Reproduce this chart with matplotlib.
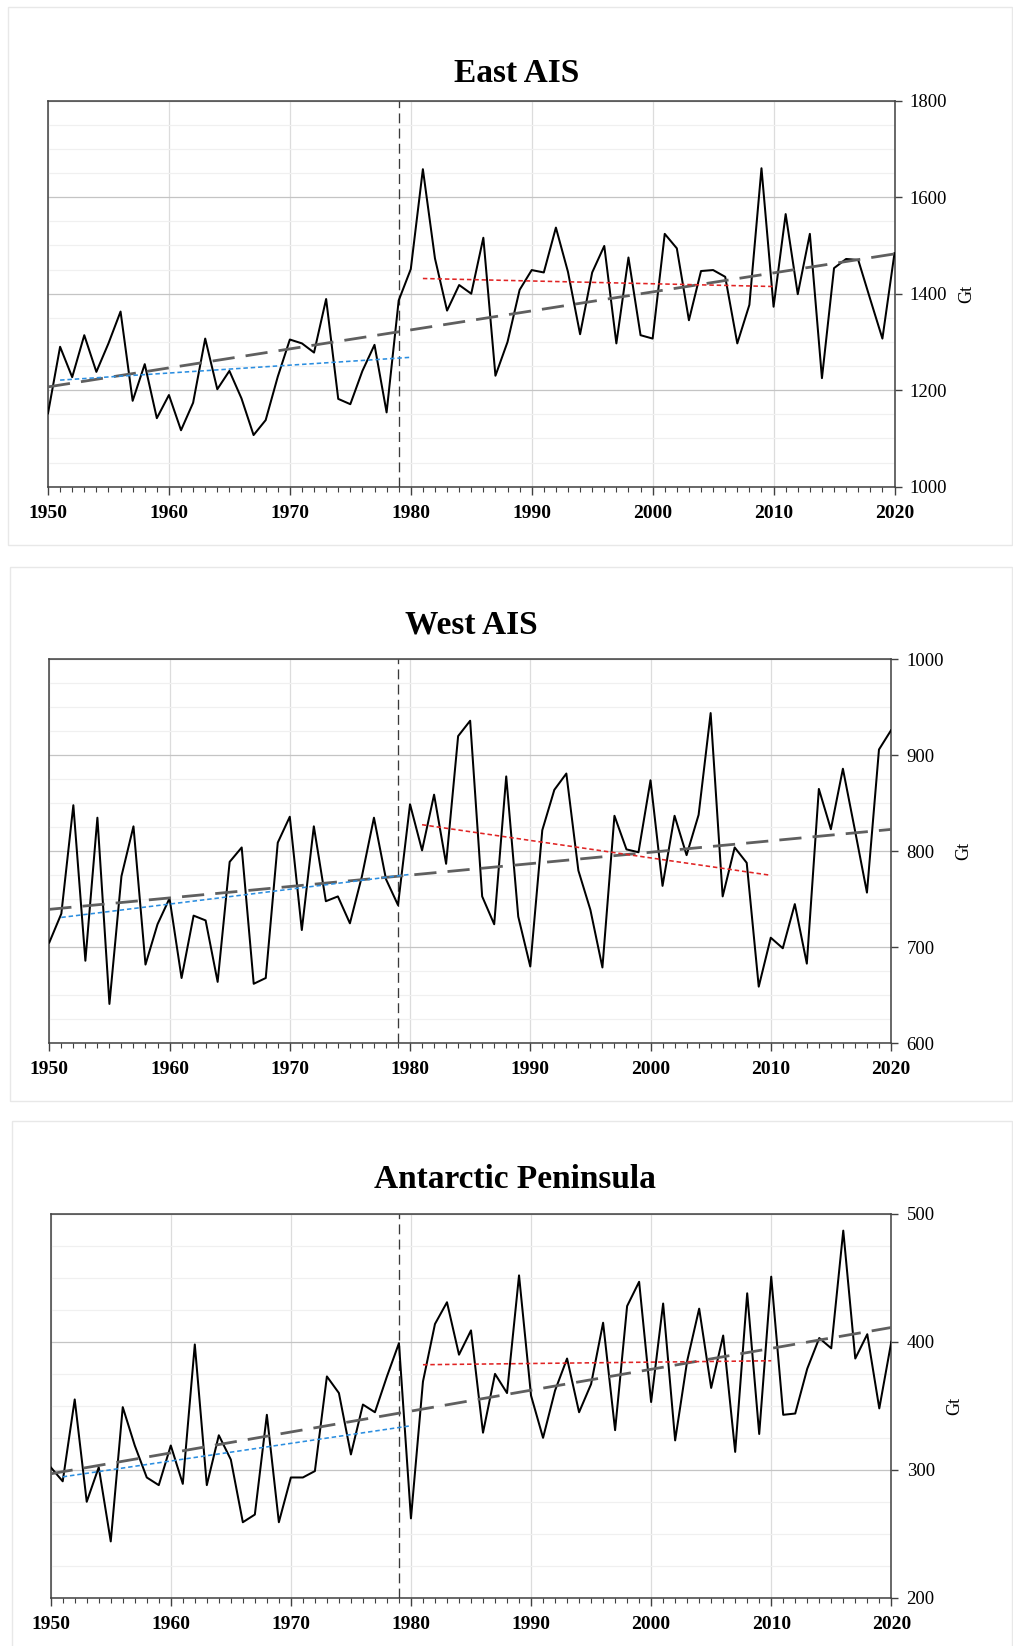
import numpy as np
import matplotlib
matplotlib.use("Agg")
import matplotlib.pyplot as plt
from matplotlib.patches import Rectangle
from matplotlib.ticker import MultipleLocator

plt.rcParams['font.family'] = ['Liberation Serif', 'DejaVu Serif']

years = np.arange(1950, 2021)

# annual mass (Gt)
east_ais = [1152, 1290, 1227, 1314, 1238, 1297, 1363, 1178, 1254, 1142,
            1190, 1117, 1174, 1307, 1202, 1240, 1183, 1107, 1138, 1228,
            1305, 1297, 1278, 1389, 1182, 1171, 1240, 1294, 1154, 1386,
            1451, 1658, 1473, 1365, 1418, 1400, 1516, 1230, 1300, 1408,
            1449, 1444, 1537, 1445, 1316, 1444, 1499, 1297, 1475, 1314,
            1307, 1524, 1494, 1345, 1447, 1449, 1435, 1297, 1377, 1660,
            1373, 1565, 1399, 1524, 1225, 1453, 1472, 1470, 1388, 1307,
            1484]

west_ais = [705, 735, 848, 686, 835, 641, 774, 826, 682, 724,
            751, 668, 733, 728, 664, 789, 804, 662, 668, 809,
            836, 718, 826, 748, 753, 725, 774, 835, 771, 744,
            849, 801, 859, 787, 920, 936, 753, 724, 878, 732,
            680, 822, 864, 881, 780, 739, 679, 837, 802, 799,
            874, 764, 837, 796, 838, 944, 753, 804, 788, 659,
            710, 699, 745, 683, 865, 823, 886, 822, 757, 906,
            926]

peninsula = [302, 291, 355, 275, 302, 244, 349, 319, 294, 288,
             319, 289, 398, 288, 327, 308, 259, 265, 343, 259,
             294, 294, 299, 373, 360, 312, 351, 345, 373, 399,
             262, 369, 414, 431, 390, 409, 329, 375, 360, 452,
             358, 325, 362, 387, 345, 367, 415, 331, 428, 447,
             353, 430, 323, 385, 426, 364, 405, 314, 438, 328,
             451, 343, 344, 379, 403, 395, 487, 387, 406, 348,
             400]

titles = ['East AIS', 'West AIS', 'Antarctic Peninsula']
ylims = [(1000, 1800), (600, 1000), (200, 500)]
ymajor = [200, 100, 100]
yminor = [50, 25, 25]

break_year = 1979
early = (1951, 1980)
late = (1981, 2010)

W, H = 1013, 1646
fig = plt.figure(figsize=(W / 100, H / 100), dpi=100)


def fx(px):
    return px / W


def fy(py):
    return 1 - py / H


# panel frames (left, top, right, bottom in pixels)
frames = [(8, 7, 1012, 545), (10, 567, 1012, 1101), (12, 1121, 1012, 1660)]
for l, t, r, b in frames:
    fig.patches.append(Rectangle((fx(l), fy(b)), fx(r - l), (b - t) / H,
                                 transform=fig.transFigure, fill=False,
                                 edgecolor='#e8e8e8', lw=1.0, zorder=0))

# axes boxes (left, top, right, bottom in pixels)
boxes = [(48, 100.7, 894.5, 486.7), (49.3, 659.3, 891, 1043.3),
         (50.7, 1214, 891.3, 1597.7)]
title_pos = [(517, 74), (471, 625), (515, 1180)]
series = [east_ais, west_ais, peninsula]


def trend(x, y, x0, x1):
    m = (x >= x0) & (x <= x1)
    k, c = np.polyfit(x[m], y[m], 1)
    xs = np.array([x0, x1])
    return xs, k * xs + c


for i in range(3):
    l, t, r, b = boxes[i]
    ax = fig.add_axes([fx(l), fy(b), fx(r - l), (b - t) / H])
    y = np.array(series[i], dtype=float)

    ax.plot(years, y, color='black', lw=1.45, zorder=4)

    xs, ys = trend(years, y, 1950, 2020)
    ax.plot(xs, ys, color='#5f5f5f', lw=2.0, dashes=(8, 4), zorder=5)
    xs, ys = trend(years, y, *early)
    ax.plot(xs, ys, color='#2b8ee0', lw=1.15, dashes=(2.8, 1.8), zorder=5)
    xs, ys = trend(years, y, *late)
    ax.plot(xs, ys, color='#e02424', lw=1.15, dashes=(2.8, 1.8), zorder=5)

    ax.axvline(break_year, color='#3a3a3a', lw=0.95, dashes=(7.5, 4), zorder=3)

    ax.set_xlim(1950, 2020)
    ax.set_ylim(*ylims[i])
    ax.xaxis.set_major_locator(MultipleLocator(10))
    ax.xaxis.set_minor_locator(MultipleLocator(1))
    ax.yaxis.set_major_locator(MultipleLocator(ymajor[i]))
    ax.yaxis.set_minor_locator(MultipleLocator(yminor[i]))

    ax.grid(axis='y', which='major', color='#c4c4c4', lw=0.9, zorder=1)
    ax.grid(axis='y', which='minor', color='#f0f0f0', lw=0.9, zorder=1)
    ax.grid(axis='x', which='major', color='#dcdcdc', lw=0.9, zorder=1)
    ax.set_axisbelow(True)

    ax.yaxis.tick_right()
    ax.yaxis.set_label_position('right')
    ax.tick_params(axis='x', which='major', direction='out', length=6,
                   width=1.0, color='#404040', pad=7, labelsize=14)
    ax.tick_params(axis='x', which='minor', direction='out', length=3.5,
                   width=0.8, color='#404040')
    ax.tick_params(axis='y', which='major', direction='out', length=5,
                   width=1.0, color='#404040', pad=6, labelsize=13.5)
    ax.tick_params(axis='y', which='minor', length=0)
    for lab in ax.get_xticklabels():
        lab.set_fontweight('bold')

    for s in ax.spines.values():
        s.set_color('#404040')
        s.set_linewidth(1.1)

    ax.set_ylabel('Gt', fontsize=13, labelpad=8)

    tx, ty = title_pos[i]
    fig.text(fx(tx), fy(ty), titles[i], ha='center', va='center',
             fontsize=24, fontweight='bold')

fig.savefig('out.png', dpi=100, facecolor='white')
